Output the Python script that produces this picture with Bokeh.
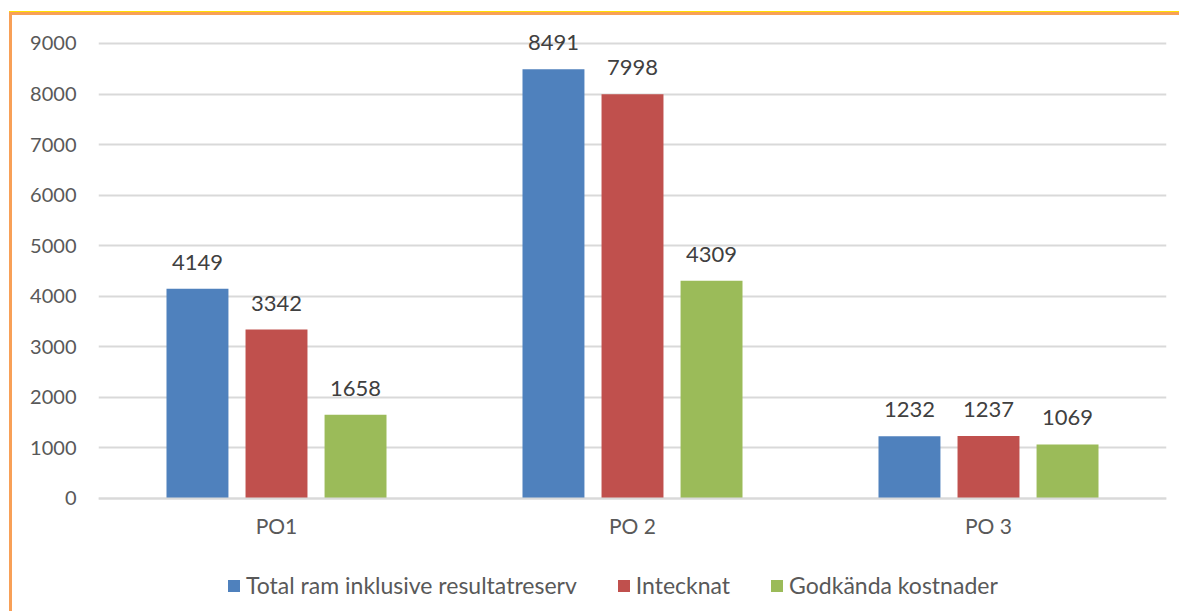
from bokeh.plotting import figure
from bokeh.models import ColumnDataSource, Legend, LegendItem, LabelSet, FactorRange
from bokeh.core.properties import value
from bokeh.transform import dodge
from bokeh.embed import file_html
from bokeh.resources import INLINE

categories = ["PO1", "PO 2", "PO 3"]
series_names = ["Total ram inklusive resultatreserv", "Intecknat", "Godkända kostnader"]
total_ram = [4149, 8491, 1232]
intecknat = [3342, 7998, 1237]
godkanda = [1658, 4309, 1069]
y_ticks = [0, 1000, 2000, 3000, 4000, 5000, 6000, 7000, 8000, 9000]

colors = ["#4F81BD", "#C0504D", "#9BBB59"]
FONT = "Lato"

src = ColumnDataSource(data=dict(
    cat=categories,
    s0=total_ram, s1=intecknat, s2=godkanda,
    t0=[str(v) for v in total_ram],
    t1=[str(v) for v in intecknat],
    t2=[str(v) for v in godkanda],
))

p = figure(x_range=FactorRange(*categories), y_range=(-2176, 9415),
           width=1170, height=599, output_backend="svg", toolbar_location=None,
           min_border_left=86, min_border_right=16, min_border_top=7, min_border_bottom=6,
           styles={"margin-left": "9px", "margin-top": "12px",
                   "border-left": "3px solid #F8A057", "border-top": "3px solid #F8A057",
                   "box-shadow": "0 -1px 0 0 #FFE000"})
p.outline_line_color = None
p.background_fill_color = "white"
p.border_fill_color = "white"

offsets = [-0.222, 0.0, 0.222]
renderers = []
for i, (key, off) in enumerate(zip(["s0", "s1", "s2"], offsets)):
    r = p.vbar(x=dodge("cat", off, range=p.x_range), top=key, width=0.174, source=src,
               fill_color=colors[i], line_color=None)
    renderers.append(r)
    labels = LabelSet(x=dodge("cat", off, range=p.x_range), y=key, text="t%d" % i, source=src,
                      text_align="center", text_baseline="bottom", y_offset=19,
                      text_font=value(FONT), text_font_size="22px", text_color="#404040")
    p.add_layout(labels)

# axes
p.yaxis.ticker = y_ticks
p.yaxis.axis_line_color = None
p.yaxis.major_tick_line_color = None
p.yaxis.minor_tick_line_color = None
p.yaxis.major_tick_out = 0
p.yaxis.major_tick_in = 0
p.yaxis.major_label_standoff = 22
p.yaxis.major_label_text_font = FONT
p.yaxis.major_label_text_font_size = "20px"
p.yaxis.major_label_text_color = "#595959"

p.xaxis.fixed_location = 0
p.xaxis.axis_line_color = "#D9D9D9"
p.xaxis.axis_line_width = 2
p.xaxis.major_tick_line_color = None
p.xaxis.minor_tick_line_color = None
p.xaxis.major_tick_out = 0
p.xaxis.major_tick_in = 0
p.xaxis.major_label_standoff = 15
p.xaxis.major_label_text_font = FONT
p.xaxis.major_label_text_font_size = "21px"
p.xaxis.major_label_text_color = "#595959"

p.xgrid.grid_line_color = None
p.ygrid.ticker = y_ticks
p.ygrid.grid_line_color = "#D9D9D9"
p.ygrid.grid_line_width = 2

legend = Legend(items=[LegendItem(label=series_names[i], renderers=[renderers[i]]) for i in range(3)],
                orientation="horizontal", location=(128, 9))
legend.border_line_color = None
legend.background_fill_alpha = 0
legend.label_text_font = FONT
legend.label_text_font_size = "23px"
legend.label_text_color = "#595959"
legend.glyph_width = 15
legend.glyph_height = 15
legend.label_standoff = 5
legend.spacing = 39
legend.padding = 0
legend.margin = 0
p.add_layout(legend)

open("out.html", "w").write(file_html(p, INLINE))
